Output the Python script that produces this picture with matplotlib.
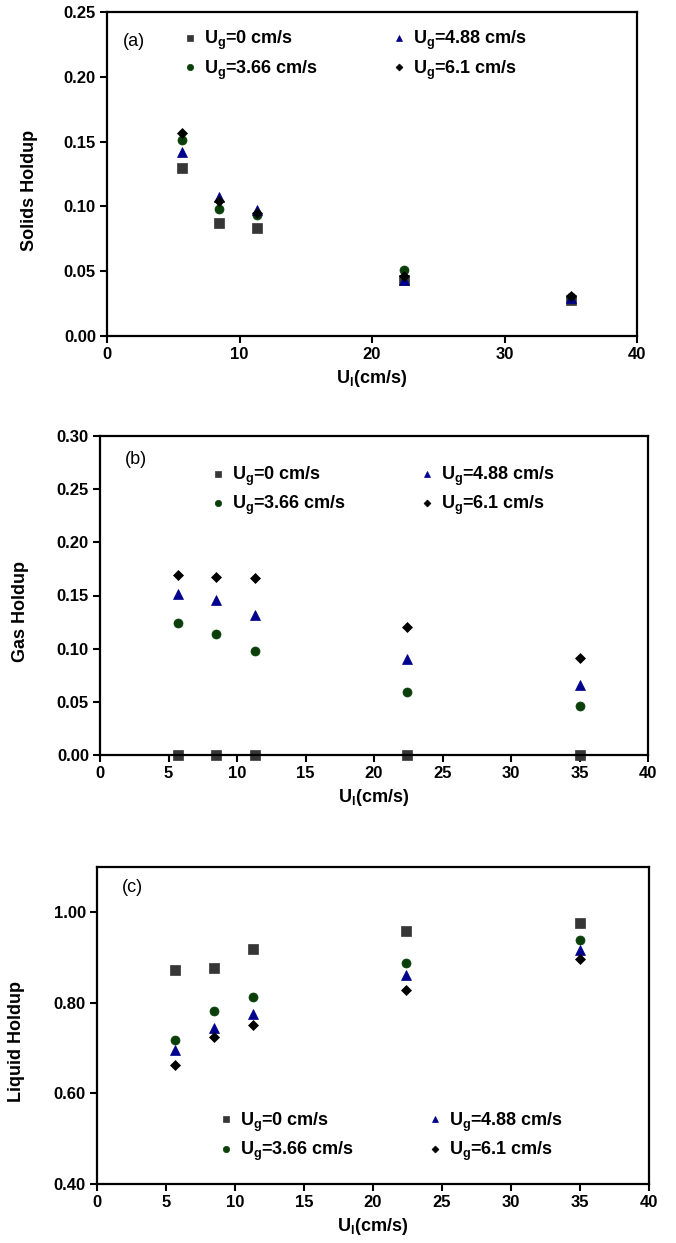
import matplotlib
matplotlib.use("Agg")
from matplotlib import pyplot as plt

plt.rcParams['font.family'] = ['Liberation Sans', 'DejaVu Sans']
plt.rcParams['mathtext.fontset'] = 'custom'
plt.rcParams['mathtext.rm'] = 'Liberation Sans:bold'
plt.rcParams['mathtext.it'] = 'Liberation Sans:bold'
plt.rcParams['mathtext.bf'] = 'Liberation Sans:bold'
plt.rcParams['mathtext.default'] = 'rm'

# liquid velocity (cm/s)
ul = [5.66, 8.49, 11.32, 22.4, 35.0]
series_labels = ["U$_g$=0 cm/s", "U$_g$=3.66 cm/s", "U$_g$=4.88 cm/s", "U$_g$=6.1 cm/s"]

# (a) solids holdup
solids_ug0 = [0.130, 0.087, 0.083, 0.043, 0.028]
solids_ug366 = [0.151, 0.098, 0.093, 0.051, 0.030]
solids_ug488 = [0.142, 0.107, 0.097, 0.043, 0.029]
solids_ug61 = [0.157, 0.104, 0.095, 0.046, 0.031]

# (b) gas holdup
gas_ug0 = [0.0, 0.0, 0.0, 0.0, 0.0]
gas_ug366 = [0.124, 0.114, 0.098, 0.059, 0.046]
gas_ug488 = [0.151, 0.146, 0.132, 0.090, 0.066]
gas_ug61 = [0.169, 0.167, 0.166, 0.120, 0.091]

# (c) liquid holdup
liq_ug0 = [0.873, 0.878, 0.920, 0.958, 0.977]
liq_ug366 = [0.718, 0.781, 0.814, 0.888, 0.938]
liq_ug488 = [0.695, 0.745, 0.775, 0.862, 0.916]
liq_ug61 = [0.662, 0.724, 0.751, 0.829, 0.896]

opts = {
    "marklist": ['s', 'o', '^', 'D'],
    "colorlist": ['#363636', '#0a3f0a', '#00008c', 'k'],
    "marksize": [6.5, 6.5, 6.8, 5.0],
}

panels = [
    dict(rect=[107, 12, 637, 336], data=[solids_ug0, solids_ug366, solids_ug488, solids_ug61],
         ylim=(0, 0.25), yticks=[0, 0.05, 0.10, 0.15, 0.20, 0.25],
         xticks=range(0, 41, 10), ylabel="Solids Holdup", tag="(a)", tagpos=(0.051, 0.91),
         legpos=(0.14, 0.948)),
    dict(rect=[100, 436, 648, 755], data=[gas_ug0, gas_ug366, gas_ug488, gas_ug61],
         ylim=(0, 0.30), yticks=[0, 0.05, 0.10, 0.15, 0.20, 0.25, 0.30],
         xticks=range(0, 41, 5), ylabel="Gas Holdup", tag="(b)", tagpos=(0.066, 0.925),
         legpos=(0.199, 0.91)),
    dict(rect=[97, 867, 649, 1184], data=[liq_ug0, liq_ug366, liq_ug488, liq_ug61],
         ylim=(0.4, 1.1), yticks=[0.4, 0.6, 0.8, 1.0],
         xticks=range(0, 41, 5), ylabel="Liquid Holdup", tag="(c)", tagpos=(0.065, 0.934),
         legpos=(0.219, 0.232)),
]

W, H = 676, 1243
fig = plt.figure(figsize=(W / 100, H / 100), dpi=100)

for p in panels:
    l, t, r, b = p["rect"]
    ax = fig.add_axes([l / W, 1 - b / H, (r - l) / W, (b - t) / H])
    for i, ys in enumerate(p["data"]):
        ax.plot(ul, ys, ls='none', marker=opts['marklist'][i], color=opts['colorlist'][i],
                ms=opts['marksize'][i], mew=0.5, label=series_labels[i], clip_on=False)
    ax.set_xlim(0, 40)
    ax.set_ylim(*p["ylim"])
    ax.set_xticks(list(p["xticks"]))
    ax.set_yticks(p["yticks"])
    ax.set_yticklabels(["%.2f" % v for v in p["yticks"]])
    for lab in ax.get_xticklabels() + ax.get_yticklabels():
        lab.set_fontweight('bold')
    ax.tick_params(direction='out', length=5, width=1.5, labelsize=12, pad=3)
    for s in ax.spines.values():
        s.set_linewidth(1.6)
    ax.set_xlabel("U$_l$(cm/s)", fontsize=13, fontweight='bold', labelpad=4)
    ax.set_ylabel(p["ylabel"], fontsize=13, fontweight='bold')
    ax.yaxis.set_label_coords(-0.13, 0.45, transform=ax.transAxes)
    ax.text(p["tagpos"][0], p["tagpos"][1], p["tag"], transform=ax.transAxes,
            fontsize=13, ha='center', va='center')
    ax.legend(loc='upper left', bbox_to_anchor=p["legpos"], ncol=2, frameon=False,
              markerscale=0.7, handlelength=0.95, handletextpad=0.3,
              columnspacing=4.0, borderpad=0, borderaxespad=0, labelspacing=0.35,
              prop={'weight': 'bold', 'size': 13})

plt.savefig("out.png", dpi=100)
